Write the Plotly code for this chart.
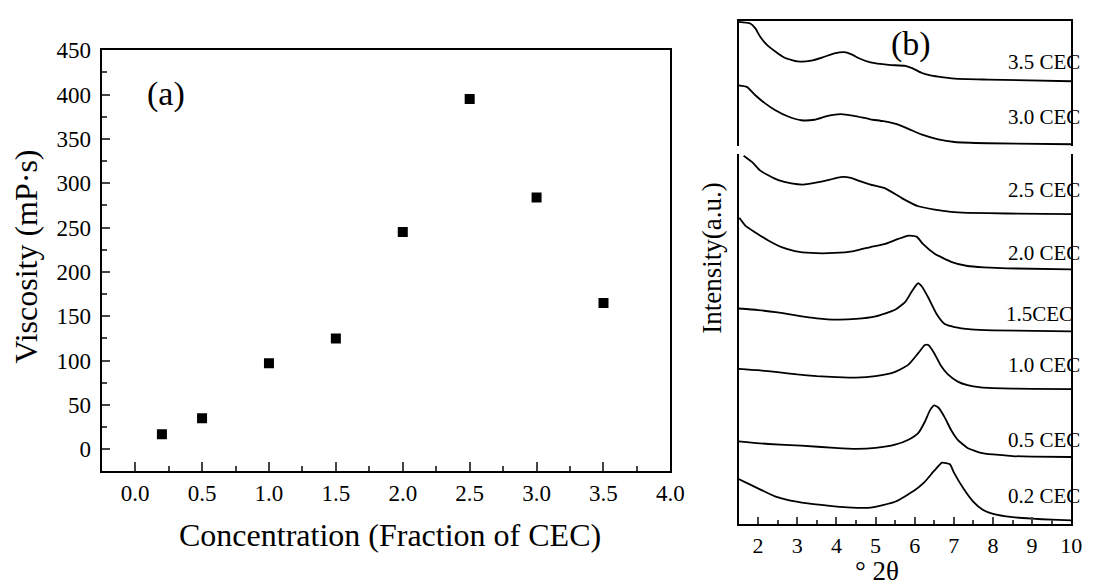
import plotly.graph_objects as go

# ---------------- Panel (a) data ----------------
conc = [0.2, 0.5, 1.0, 1.5, 2.0, 2.5, 3.0, 3.5]
viscosity = [17, 35, 97, 125, 245, 395, 284, 165]

# ---------------- Panel (b) data (intensity, a.u., stacked) ----------------
# lower block curves
x_02 = [1.5, 1.76, 2.1, 2.43, 2.77, 3.27, 3.78, 4.28, 4.87, 5.5, 6.0, 6.25, 6.5, 6.7, 6.9, 7.0, 7.25, 7.5, 7.75, 8.0, 8.5, 9.0, 9.5, 10.0]
y_02 = [46.3, 41.3, 34.7, 28.5, 24.7, 21.3, 19, 17.3, 17, 23, 34.7, 43, 54.7, 63, 61.3, 53, 36.3, 23, 14.7, 10.7, 7.3, 5.7, 4.7, 4]

x_05 = [1.5, 2.26, 3.1, 3.95, 4.5, 5.0, 5.5, 5.84, 6.09, 6.26, 6.39, 6.5, 6.61, 6.76, 6.93, 7.1, 7.35, 7.69, 8.0, 8.5, 9.0, 10.0]
y_05 = [84.7, 82, 80.3, 78, 77, 78, 81.3, 86.3, 93, 104.7, 116.3, 121.3, 119, 109.7, 96.3, 86.3, 78, 73, 71.3, 69.7, 69, 68.7]

x_10 = [1.5, 2.0, 2.5, 3.0, 3.5, 4.0, 4.5, 5.0, 5.5, 5.84, 6.09, 6.26, 6.35, 6.5, 6.68, 6.85, 7.1, 7.35, 7.69, 8.0, 9.0, 10.0]
y_10 = [158.7, 157.3, 155.3, 153, 151.3, 150.3, 149.7, 151.3, 155.7, 163, 174.7, 183, 183, 174.7, 161.3, 153, 145.7, 142, 139.7, 139, 138.3, 138]

x_15 = [1.5, 2.0, 2.5, 3.0, 3.5, 4.0, 4.5, 5.0, 5.5, 5.76, 5.93, 6.05, 6.09, 6.18, 6.35, 6.56, 6.76, 7.02, 7.44, 8.0, 10.0]
y_15 = [220.3, 218.7, 216.3, 213, 210.3, 209, 209.7, 212.3, 219, 227, 238, 244.7, 246.3, 243, 231.3, 214.7, 204.7, 201.3, 199, 198, 197]

x_20 = [1.52, 1.68, 1.93, 2.26, 2.6, 2.94, 3.36, 3.95, 4.45, 4.87, 5.25, 5.58, 5.84, 6.05, 6.21, 6.51, 6.93, 7.35, 7.77, 8.36, 10.0]
y_20 = [313, 304.7, 298, 289.7, 283, 279, 277, 277, 279, 283, 286.3, 291.3, 294.7, 293.7, 286.3, 276.3, 268, 263.7, 262.3, 261.3, 260.3]

x_25 = [1.63, 1.85, 2.05, 2.26, 2.52, 2.85, 3.15, 3.44, 3.78, 4.11, 4.37, 4.62, 4.87, 5.25, 5.67, 6.09, 6.51, 6.93, 7.35, 8.36, 10.0]
y_25 = [376.3, 369.7, 361.3, 356.3, 351.3, 348, 346.8, 348.5, 351.3, 354.5, 353.7, 350, 346.8, 343, 333, 324.7, 321.3, 319, 318, 317.3, 316.7]

# upper block curves
x_30 = [1.5, 1.72, 1.93, 2.18, 2.43, 2.77, 3.1, 3.44, 3.78, 4.11, 4.45, 4.87, 5.2, 5.52, 5.84, 6.17, 6.6, 7.02, 7.86, 10.0]
y_30 = [62, 60.3, 52, 43.7, 37, 30.3, 26.5, 27, 31, 32.8, 31, 27.5, 25.5, 22.7, 17.7, 12, 7, 4.3, 3, 2]

x_35 = [1.5, 1.8, 1.93, 2.05, 2.22, 2.43, 2.68, 3.02, 3.36, 3.69, 3.95, 4.2, 4.37, 4.62, 4.87, 5.34, 5.76, 5.95, 6.17, 6.4, 6.6, 7.02, 7.86, 10.0]
y_35 = [127, 125.3, 120.3, 112, 103.7, 97, 90.3, 86.5, 87.3, 91.3, 94.7, 96, 94, 89, 85.5, 83, 82, 79.5, 75, 72.3, 71, 69, 68, 66.3]

labels_lower = ["0.2 CEC", "0.5 CEC", "1.0 CEC", "1.5CEC", "2.0 CEC", "2.5 CEC"]
labels_lower_px = [494, 436.5, 360.5, 308.5, 246.5, 181.5]
labels_lower_right = [1096, 1096, 1096, 1089, 1096, 1096]
labels_upper = ["3.0 CEC", "3.5 CEC"]
labels_upper_px = [107.5, 51]

W, H = 1105, 587
FONT = "Liberation Serif"

def px_x(p):
    return p / W

def px_y(p):
    return 1 - p / H

fig = go.Figure()

fig.add_trace(go.Scatter(
    x=conc, y=viscosity, mode="markers",
    marker=dict(symbol="square", size=10, color="black"),
    xaxis="x", yaxis="y", showlegend=False))

line_style = dict(color="black", width=1.8, shape="spline", smoothing=0.5)
for xs, ys in [(x_02, y_02), (x_05, y_05), (x_10, y_10), (x_15, y_15), (x_20, y_20), (x_25, y_25)]:
    fig.add_trace(go.Scatter(x=xs, y=ys, mode="lines", line=line_style,
                             xaxis="x2", yaxis="y2", showlegend=False))
for xs, ys in [(x_30, y_30), (x_35, y_35)]:
    fig.add_trace(go.Scatter(x=xs, y=ys, mode="lines", line=line_style,
                             xaxis="x3", yaxis="y3", showlegend=False))

tickfont_a = dict(family=FONT, size=23, color="black")
tickfont_b = dict(family=FONT, size=22, color="black")

layout = dict(
    width=W, height=H,
    margin=dict(l=0, r=0, t=0, b=0),
    paper_bgcolor="white", plot_bgcolor="white",
    showlegend=False,
    xaxis=dict(domain=[px_x(103), px_x(679)], range=[-0.25, 4.0], anchor="y",
               tick0=0, dtick=0.5, tickformat=".1f", ticks="inside", ticklen=9, tickwidth=1.5,
               minor=dict(ticks="inside", ticklen=5, dtick=0.25, tickwidth=1.5, showgrid=False),
               showline=True, linecolor="black", linewidth=2, mirror=True,
               showgrid=False, zeroline=False, tickfont=tickfont_a),
    yaxis=dict(domain=[px_y(469), px_y(39)], range=[-25, 450], anchor="x",
               tick0=0, dtick=50, ticks="inside", ticklen=8, tickwidth=1.5,
               minor=dict(ticks="inside", ticklen=5, dtick=25, tickwidth=1.5, showgrid=False),
               showline=True, linecolor="black", linewidth=2, mirror=True,
               showgrid=False, zeroline=False, tickfont=tickfont_a, ticklabelstandoff=4),
    xaxis2=dict(domain=[px_x(748), px_x(1085)], range=[1.5, 10], anchor="y2",
                tick0=0, dtick=1, ticks="inside", ticklen=7, tickwidth=1.5,
                minor=dict(ticks="inside", ticklen=4, dtick=0.5, tickwidth=1.5, showgrid=False),
                showline=True, linecolor="black", linewidth=2, mirror=False,
                showgrid=False, zeroline=False, tickfont=tickfont_b),
    yaxis2=dict(domain=[px_y(523), px_y(145)], range=[0, 378], anchor="x2",
                showticklabels=False, ticks="",
                showline=True, linecolor="black", linewidth=2, mirror=True,
                showgrid=False, zeroline=False),
    xaxis3=dict(domain=[px_x(748), px_x(1085)], range=[1.5, 10], anchor="y3", side="top",
                showticklabels=False, ticks="",
                showline=True, linecolor="black", linewidth=2, mirror=False,
                showgrid=False, zeroline=False),
    yaxis3=dict(domain=[px_y(137), px_y(9)], range=[0, 128], anchor="x3",
                showticklabels=False, ticks="",
                showline=True, linecolor="black", linewidth=2, mirror=True,
                showgrid=False, zeroline=False),
)
fig.update_layout(**layout)

ann = []
ann.append(dict(text="Viscosity (mP·s)", xref="paper", yref="paper", x=px_x(26), y=px_y(250),
                textangle=-90, showarrow=False, font=dict(family=FONT, size=32, color="black"),
                xanchor="center", yanchor="middle"))
ann.append(dict(text="Concentration (Fraction of CEC)", xref="paper", yref="paper", x=px_x(395), y=px_y(534),
                showarrow=False, font=dict(family=FONT, size=32, color="black"),
                xanchor="center", yanchor="middle"))
ann.append(dict(text="(a)", xref="paper", yref="paper", x=px_x(168), y=px_y(84),
                showarrow=False, font=dict(family=FONT, size=34, color="black"),
                xanchor="center", yanchor="middle"))
ann.append(dict(text="(b)", xref="paper", yref="paper", x=px_x(923), y=px_y(33),
                showarrow=False, font=dict(family=FONT, size=34, color="black"),
                xanchor="center", yanchor="middle"))
ann.append(dict(text="Intensity(a.u.)", xref="paper", yref="paper", x=px_x(721), y=px_y(251),
                textangle=-90, showarrow=False, font=dict(family=FONT, size=27, color="black"),
                xanchor="center", yanchor="middle"))
ann.append(dict(text="° 2θ", xref="paper", yref="paper", x=px_x(888), y=px_y(571),
                showarrow=False, font=dict(family=FONT, size=27, color="black"),
                xanchor="center", yanchor="middle"))
for t, ypx, xr in zip(labels_lower, labels_lower_px, labels_lower_right):
    ann.append(dict(text=t, xref="paper", yref="paper", x=px_x(xr), y=px_y(ypx), showarrow=False,
                    font=dict(family=FONT, size=21, color="black"), xanchor="right", yanchor="middle"))
for t, ypx in zip(labels_upper, labels_upper_px):
    ann.append(dict(text=t, xref="paper", yref="paper", x=px_x(1096), y=px_y(ypx), showarrow=False,
                    font=dict(family=FONT, size=21, color="black"), xanchor="right", yanchor="middle"))
fig.update_layout(annotations=ann)

fig.write_html("out.html")
